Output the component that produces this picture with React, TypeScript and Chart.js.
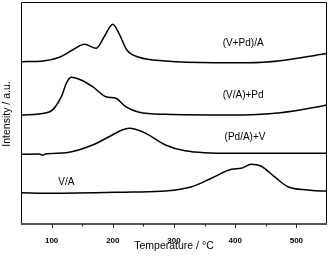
import React, { useEffect, useRef } from "react";
import { Chart, registerables } from "chart.js";

Chart.register(...registerables);

// Temperature (°C) and intensity (a.u., offset-stacked) per curve
const vpdT = [51, 86, 113, 134, 154, 173, 186, 200, 210, 223, 243, 286, 367, 421, 474, 542, 550];
const vpdY = [162.3, 163, 166.7, 174, 179.7, 175.7, 187.3, 199.7, 190.7, 174, 166.7, 163, 161.3, 161.3, 163.3, 169.7, 170.5];

const vaPdT = [51, 97, 116, 124, 132, 148, 167, 189, 205, 221, 243, 286, 393, 474, 542, 550];
const vaPdY = [109, 112.3, 127.3, 140.7, 146.7, 144, 137.3, 127.3, 125.7, 117.3, 111.7, 109.7, 109, 111.3, 118, 119];

const pdaVT = [51, 80, 85, 90, 124, 167, 199, 215, 227, 237, 254, 286, 318, 393, 542, 550];
const pdaVY = [69.7, 70, 68.8, 70, 71.3, 79, 89, 94, 95.7, 94.7, 90.7, 79, 73.3, 70.7, 70.7, 70.7];

const vaT = [51, 97, 231, 286, 329, 361, 394, 410, 426, 442, 464, 486, 518, 542, 550];
const vaY = [31.3, 30.7, 32, 33, 37.3, 45.7, 54.7, 55.7, 59.7, 58, 47.3, 37.3, 34, 33, 33];

const curveLabels = ["(V+Pd)/A", "(V/A)+Pd", "(Pd/A)+V", "V/A"];
const labelT = [413, 413, 416, 124];
const labelY = [181, 129, 87, 42];

const xTitle = "Temperature / °C";
const yTitle = "Intensity / a.u.";
const majorTicks = [100, 200, 300, 400, 500];
const minorTicks = [150, 250, 350, 450];

const FONT = "'Liberation Sans', Arial, sans-serif";

const pts = (t: number[], y: number[]) => t.map((v, i) => ({ x: v, y: y[i] }));

const overlay = {
  id: "overlay",
  afterDraw(chart: any) {
    const { ctx, chartArea: a, scales } = chart;
    const xs = scales.x;
    const ys = scales.y;
    ctx.save();
    // frame
    ctx.strokeStyle = "#000";
    ctx.lineWidth = 1;
    ctx.beginPath();
    ctx.moveTo(a.left + 0.5, a.bottom);
    ctx.lineTo(a.left + 0.5, a.top + 0.5);
    ctx.lineTo(a.right - 0.5, a.top + 0.5);
    ctx.lineTo(a.right - 0.5, a.bottom);
    ctx.stroke();
    ctx.strokeStyle = "#555";
    ctx.lineWidth = 2;
    ctx.beginPath();
    ctx.moveTo(a.left, a.bottom);
    ctx.lineTo(a.right, a.bottom);
    ctx.stroke();
    // ticks
    ctx.strokeStyle = "#222";
    ctx.lineWidth = 1;
    majorTicks.forEach((t) => {
      const px = Math.round(xs.getPixelForValue(t)) + 0.5;
      ctx.beginPath();
      ctx.moveTo(px, a.bottom);
      ctx.lineTo(px, a.bottom + 4);
      ctx.stroke();
    });
    minorTicks.forEach((t) => {
      const px = Math.round(xs.getPixelForValue(t)) + 0.5;
      ctx.beginPath();
      ctx.moveTo(px, a.bottom);
      ctx.lineTo(px, a.bottom + 2.5);
      ctx.stroke();
    });
    // curve labels
    ctx.fillStyle = "#000";
    ctx.font = `10px ${FONT}`;
    ctx.textAlign = "center";
    ctx.textBaseline = "middle";
    curveLabels.forEach((s, i) => {
      ctx.fillText(s, xs.getPixelForValue(labelT[i]), ys.getPixelForValue(labelY[i]));
    });
    // axis titles
    ctx.font = `10.5px ${FONT}`;
    ctx.fillText(xTitle, (a.left + a.right) / 2, 246);
    ctx.translate(7, 114);
    ctx.rotate(-Math.PI / 2);
    ctx.fillText(yTitle, 0, 0);
    ctx.restore();
  },
};

export default function App() {
  const ref = useRef<HTMLCanvasElement | null>(null);
  useEffect(() => {
    document.body.style.margin = "0";
    const ds = (t: number[], y: number[]) => ({
      data: pts(t, y),
      borderColor: "#000",
      borderWidth: 1.5,
      pointRadius: 0,
      fill: false,
      cubicInterpolationMode: "monotone" as const,
    });
    const chart = new Chart(ref.current as HTMLCanvasElement, {
      type: "line",
      data: {
        datasets: [ds(vpdT, vpdY), ds(vaPdT, vaPdY), ds(pdaVT, pdaVY), ds(vaT, vaY)],
      },
      options: {
        animation: false,
        responsive: false,
        maintainAspectRatio: false,
        layout: { padding: { top: 2, right: 2, left: 0, bottom: 0 } },
        plugins: { legend: { display: false }, tooltip: { enabled: false } },
        scales: {
          x: {
            type: "linear",
            min: 50,
            max: 550,
            border: { display: false },
            grid: { display: false },
            ticks: {
              stepSize: 50,
              autoSkip: false,
              maxRotation: 0,
              padding: 4,
              color: "#000",
              font: { family: FONT, size: 8, weight: "bold" },
              callback: (v: any) => (Number(v) % 100 === 0 && v !== 50 && v !== 550 ? String(v) : ""),
            },
            afterFit: (s: any) => {
              s.height = 36;
            },
          },
          y: {
            min: 0,
            max: 222,
            border: { display: false },
            grid: { display: false },
            ticks: { display: false },
            afterFit: (s: any) => {
              s.width = 21;
            },
          },
        },
      },
      plugins: [overlay],
    });
    return () => chart.destroy();
  }, []);
  return (
    <div style={{ width: 331, height: 260 }}>
      <canvas ref={ref} width={331} height={260} style={{ width: 331, height: 260, display: "block" }} />
    </div>
  );
}
